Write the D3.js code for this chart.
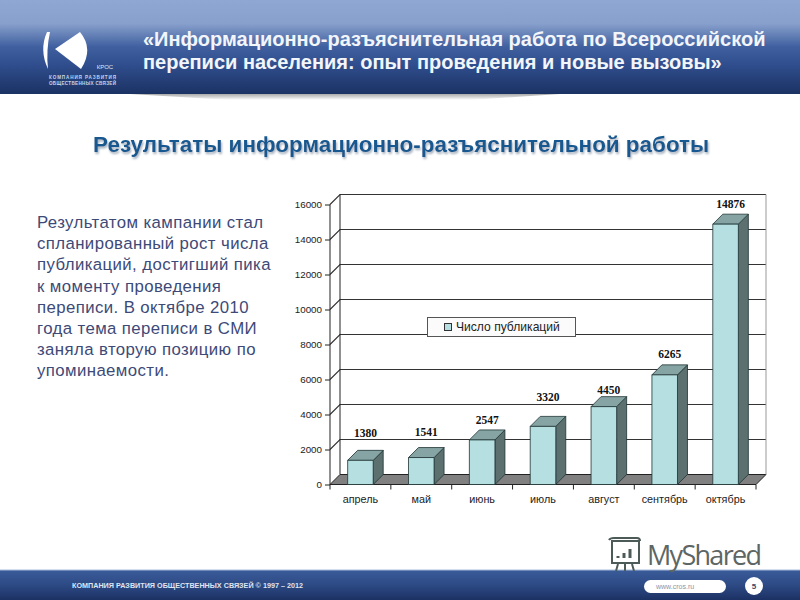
<!DOCTYPE html>
<html>
<head>
<meta charset="utf-8">
<script src="https://cdn.jsdelivr.net/npm/d3@7/dist/d3.min.js"></script>
<style>
  html, body { margin: 0; padding: 0; background: #fff; }
  svg { display: block; }
</style>
</head>
<body>
<div id="chart"></div>
<script>
const months = ["апрель", "май", "июнь", "июль", "август", "сентябрь", "октябрь"];
const publications = [1380, 1541, 2547, 3320, 4450, 6265, 14876];
const yTicks = [0, 2000, 4000, 6000, 8000, 10000, 12000, 14000, 16000];
const titleLines = ["«Информационно-разъяснительная работа по Всероссийской", "переписи населения: опыт проведения и новые вызовы»"];
const bodyLines = ["Результатом кампании стал", "спланированный рост числа", "публикаций, достигший пика", "к моменту проведения", "переписи. В октябре 2010", "года тема переписи в СМИ", "заняла вторую позицию по", "упоминаемости."];

const svg = d3.select("#chart").append("svg")
    .attr("width", 800)
    .attr("height", 600)
    .attr("viewBox", [0, 0, 800, 600]);

const font = "'Liberation Sans', Arial, sans-serif";
const defs = svg.append("defs");

const addGrad = (id, stops) => {
  const g = defs.append("linearGradient").attr("id", id)
      .attr("x1", 0).attr("x2", 0).attr("y1", 0).attr("y2", 1);
  stops.forEach(s => g.append("stop").attr("offset", s[0]).attr("stop-color", s[1]));
};
addGrad("headGrad", [[0, "#8fa7d3"], [0.25, "#88a0cc"], [0.5, "#3f5f9f"], [0.7, "#2f4d8c"], [1, "#1b3263"]]);
addGrad("footGrad", [[0, "#3a5c9a"], [0.5, "#2d4a85"], [1, "#1c3163"]]);
addGrad("shadowGrad", [[0, "#a9a9a9"], [1, "#ffffff"]]);

defs.append("filter").attr("id", "subShadow")
    .attr("x", "-5%").attr("y", "-30%").attr("width", "110%").attr("height", "160%")
  .append("feDropShadow")
    .attr("dx", 1).attr("dy", 2).attr("stdDeviation", 0.9)
    .attr("flood-color", "#a3aebb");

// header
svg.append("path")
    .attr("d", "M130,94 H560 L470,100 H230 Z")
    .attr("fill", "url(#shadowGrad)");
svg.append("rect").attr("width", 800).attr("height", 94).attr("fill", "url(#headGrad)");

const logo = svg.append("g").attr("fill", "#fff");
logo.append("path").attr("d", "M55,49 L80,32 Q94,49 81,69 Z");
logo.append("path").attr("d", "M47,32 Q39,50 48,69 Q46,50 50,32 Z");
logo.append("text").attr("x", 105).attr("y", 69).attr("text-anchor", "middle")
    .attr("font-family", font).attr("font-size", 6).attr("fill", "#dfe6f3").text("КРОС");
logo.append("text").attr("x", 49).attr("y", 78.5)
    .attr("font-family", font).attr("font-size", 4.6).attr("font-weight", "bold")
    .attr("fill", "#c9d4e8").attr("textLength", 67).text("КОМПАНИЯ РАЗВИТИЯ");
logo.append("text").attr("x", 49).attr("y", 85)
    .attr("font-family", font).attr("font-size", 4.6).attr("font-weight", "bold")
    .attr("fill", "#c9d4e8").attr("textLength", 67).text("ОБЩЕСТВЕННЫХ СВЯЗЕЙ");

svg.append("g").selectAll("text")
  .data(titleLines)
  .join("text")
    .attr("x", 143)
    .attr("y", (d, i) => 46 + i * 23)
    .attr("font-family", font)
    .attr("font-size", 20)
    .attr("font-weight", "bold")
    .attr("fill", "#f2f5fa")
    .text(d => d);

// subtitle with shadow
svg.append("text").attr("x", 93).attr("y", 152)
    .attr("font-family", font).attr("font-size", 22.45).attr("font-weight", "bold")
    .attr("fill", "#12598f")
    .attr("filter", "url(#subShadow)")
    .text("Результаты информационно-разъяснительной работы");

// left text
svg.append("g").selectAll("text")
  .data(bodyLines)
  .join("text")
    .attr("x", 37)
    .attr("y", (d, i) => 228 + i * 21.2)
    .attr("font-family", font)
    .attr("font-size", 16.8)
    .attr("letter-spacing", 0.4)
    .attr("fill", "#3d4a78")
    .text(d => d);

// chart
const depth = 10;
const margin = {left: 330, right: 756, bottom: 484.5};

const x = d3.scaleBand()
    .domain(months)
    .range([margin.left, margin.right])
    .paddingInner(0.58)
    .paddingOuter(0.29);

const y = d3.scaleLinear()
    .domain([0, 16000])
    .range([margin.bottom, 204.5]);

const chart = svg.append("g");
const wallTop = y(16000) - depth;

// back wall and side wall
chart.append("path")
    .attr("d", `M${margin.left},${y(0)} V${y(16000)} L${margin.left + depth},${wallTop} H${margin.right + depth} V${y(0) - depth} L${margin.right},${y(0)} Z`)
    .attr("fill", "#fff");

// floor
chart.append("path")
    .attr("d", `M${margin.left},${y(0)} L${margin.left + depth},${y(0) - depth} H${margin.right + depth} L${margin.right},${y(0)} Z`)
    .attr("fill", "#808080")
    .attr("stroke", "#222")
    .attr("stroke-width", 1);

// gridlines with the slanted piece on the side wall
chart.append("g").selectAll("path")
  .data(yTicks.filter(d => d > 0))
  .join("path")
    .attr("d", d => `M${margin.left},${y(d)} L${margin.left + depth},${y(d) - depth} H${margin.right + depth}`)
    .attr("fill", "none")
    .attr("stroke", "#333")
    .attr("stroke-width", 1.1);

chart.append("line")
    .attr("x1", margin.left + depth).attr("x2", margin.left + depth)
    .attr("y1", wallTop).attr("y2", y(0) - depth)
    .attr("stroke", "#222");
chart.append("line")
    .attr("x1", margin.right + depth).attr("x2", margin.right + depth)
    .attr("y1", wallTop).attr("y2", y(0) - depth)
    .attr("stroke", "#999");

// axes
const yAxis = d3.axisLeft(y).tickValues(yTicks).tickFormat(d3.format("d")).tickSize(5).tickPadding(3);
chart.append("g")
    .attr("transform", `translate(${margin.left},0)`)
    .call(yAxis)
    .call(g => g.select(".domain").attr("stroke", "#222").attr("d", `M0,${y(16000)} V${y(0)}`))
    .call(g => g.selectAll(".tick line").attr("stroke", "#222"))
    .call(g => g.selectAll("text").attr("font-family", font).attr("font-size", 9.8).attr("fill", "#222"));

const stepEdges = d3.range(months.length + 1).map(i => margin.left + i * x.step());
chart.append("line")
    .attr("x1", margin.left).attr("x2", margin.right)
    .attr("y1", y(0)).attr("y2", y(0))
    .attr("stroke", "#222");
chart.append("g").selectAll("line")
  .data(stepEdges)
  .join("line")
    .attr("x1", d => d).attr("x2", d => d)
    .attr("y1", y(0)).attr("y2", y(0) + 5)
    .attr("stroke", "#222");
chart.append("g").selectAll("text")
  .data(months)
  .join("text")
    .attr("x", d => x(d) + x.bandwidth() / 2)
    .attr("y", 503)
    .attr("text-anchor", "middle")
    .attr("font-family", font)
    .attr("font-size", 10.8)
    .attr("fill", "#222")
    .text(d => d);

// bars
const bars = chart.append("g").selectAll("g")
  .data(months.map((m, i) => ({month: m, value: publications[i]})))
  .join("g")
    .attr("stroke", "#1f3333")
    .attr("stroke-width", 0.8)
    .attr("stroke-linejoin", "round");

bars.append("path") // side
    .attr("d", d => {
      const r = x(d.month) + x.bandwidth(), t = y(d.value);
      return `M${r},${y(0)} V${t} L${r + depth},${t - depth} V${y(0) - depth} Z`;
    })
    .attr("fill", "#5c7070");
bars.append("path") // top
    .attr("d", d => {
      const l = x(d.month), r = l + x.bandwidth(), t = y(d.value);
      return `M${l},${t} L${l + depth},${t - depth} H${r + depth} L${r},${t} Z`;
    })
    .attr("fill", "#86a4a4");
bars.append("rect") // front
    .attr("x", d => x(d.month))
    .attr("y", d => y(d.value))
    .attr("width", x.bandwidth())
    .attr("height", d => y(0) - y(d.value))
    .attr("fill", "#b6dfe1");

// the value labels were placed by hand in the original, so each has its own lift
const labelLift = [23, 21.5, 16, 25, 12.5, 17, 16];
chart.append("g").selectAll("text")
  .data(publications)
  .join("text")
    .attr("x", (d, i) => x(months[i]) + x.bandwidth() / 2 + 5)
    .attr("y", (d, i) => y(d) - labelLift[i])
    .attr("text-anchor", "middle")
    .attr("font-family", "'Liberation Serif', 'Times New Roman', serif")
    .attr("font-size", 11.5)
    .attr("font-weight", "bold")
    .attr("fill", "#111")
    .text(d => d);

// legend
const legend = chart.append("g");
legend.append("rect")
    .attr("x", 427.5).attr("y", 317.5).attr("width", 148).attr("height", 19)
    .attr("fill", "#fbfbfb").attr("stroke", "#555");
legend.append("rect")
    .attr("x", 444.5).attr("y", 323.5).attr("width", 7).attr("height", 7)
    .attr("fill", "#b6dfe1").attr("stroke", "#333");
legend.append("text")
    .attr("x", 456).attr("y", 331)
    .attr("font-family", font).attr("font-size", 12.1).attr("fill", "#222")
    .text("Число публикаций");

// footer
svg.append("rect").attr("y", 570).attr("width", 800).attr("height", 30).attr("fill", "url(#footGrad)");
svg.append("rect").attr("y", 569.5).attr("width", 800).attr("height", 1).attr("fill", "#a9bbd8");
svg.append("text").attr("x", 72).attr("y", 588)
    .attr("font-family", font).attr("font-size", 7.2).attr("font-weight", "bold")
    .attr("fill", "#dfe6f3").attr("textLength", 231)
    .text("КОМПАНИЯ  РАЗВИТИЯ  ОБЩЕСТВЕННЫХ  СВЯЗЕЙ © 1997 – 2012");
svg.append("rect").attr("x", 644).attr("y", 580).attr("width", 82).attr("height", 13).attr("rx", 6.5).attr("fill", "#fff");
svg.append("text").attr("x", 656).attr("y", 589)
    .attr("font-family", font).attr("font-size", 7).attr("fill", "#8a94a8").text("www.cros.ru");
svg.append("circle").attr("cx", 754).attr("cy", 586).attr("r", 9).attr("fill", "#fff");
svg.append("text").attr("x", 754).attr("y", 589).attr("text-anchor", "middle")
    .attr("font-family", font).attr("font-size", 8).attr("font-weight", "bold").attr("fill", "#3a4a6a").text("5");

// watermark
const mark = svg.append("g").attr("stroke", "#4c5a58").attr("fill", "none").attr("stroke-width", 2);
mark.append("path").attr("d", "M612,541 H639 V563 H612 Z");
mark.append("path").attr("d", "M609,540 Q610,538 614,538 H637 Q640,538 640,541");
mark.append("path").attr("d", "M618,564 L616,571 M625,564 V571 M632,564 L634,571");
mark.append("path").attr("d", "M618,558 V556 M624,558 V553 M630,558 V549").attr("stroke-width", 3);
svg.append("text").attr("x", 647).attr("y", 565)
    .attr("font-family", "'Open Sans', sans-serif").attr("font-size", 27)
    .attr("fill", "#5d6664").attr("textLength", 115).text("MyShared");
</script>
</body>
</html>
